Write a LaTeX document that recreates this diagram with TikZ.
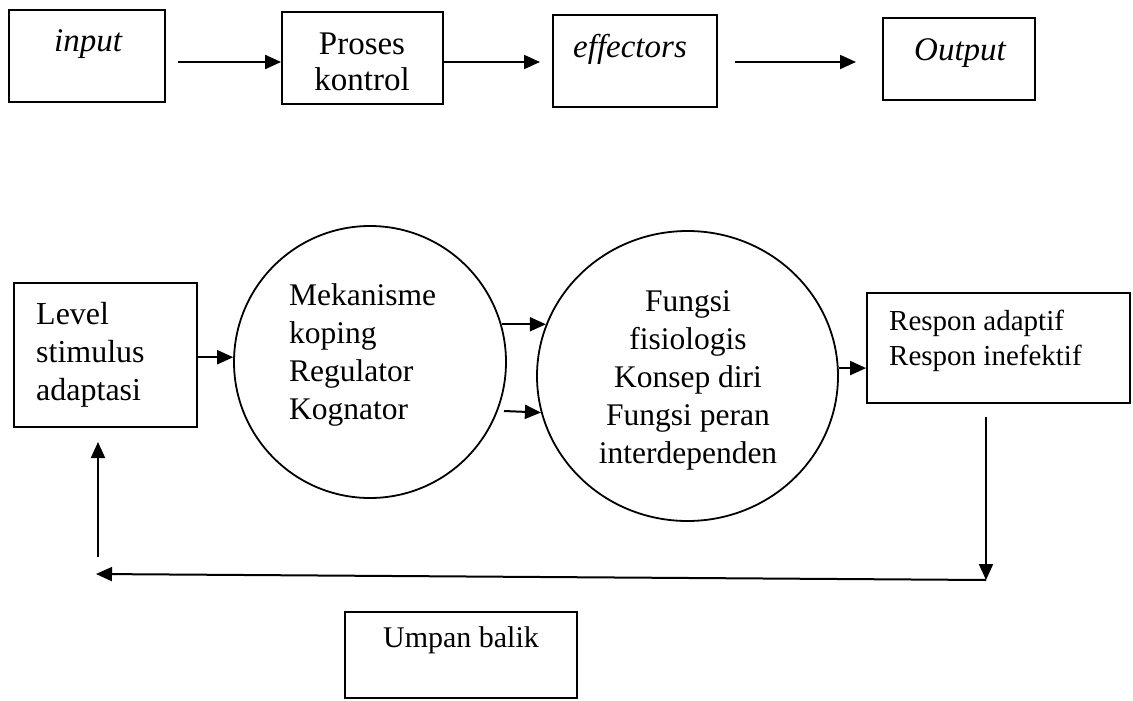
\documentclass[tikz,border=0pt]{standalone}
\usepackage{fontspec}
\setmainfont{Liberation Serif}
\usetikzlibrary{arrows.meta,calc,shapes.geometric}
\begin{document}
\begin{tikzpicture}[x=1pt,y=-1pt,
  box/.style={draw, line width=1.8pt, rectangle, inner sep=0pt},
  circ/.style={draw, line width=1.8pt, circle, inner sep=0pt},
  ell/.style={draw, line width=1.8pt, ellipse, inner sep=0pt},
  arr/.style={line width=2pt, -{Triangle[length=16pt,width=14pt]}},
  toptxt/.style={anchor=base, inner sep=0pt, font=\fontsize{33}{36}\selectfont},
  lvltxt/.style={anchor=base west, inner sep=0pt, font=\fontsize{32}{36}\selectfont},
  mtxt/.style={anchor=base west, inner sep=0pt, font=\fontsize{31.5}{36}\selectfont},
  ctxt/.style={anchor=base, inner sep=0pt, font=\fontsize{31.5}{36}\selectfont},
  rtxt/.style={anchor=base west, inner sep=0pt, font=\fontsize{29}{32}\selectfont},
]
\fill[white] (0,0) rectangle (1133,701);
\useasboundingbox (0,0) rectangle (1133,701);

% ---- top row ----
\node[box, minimum width=156pt, minimum height=92pt] (inbox) at (87,56) {};
\node[box, minimum width=161pt, minimum height=92pt] (proses) at (362.5,58) {};
\node[box, minimum width=164pt, minimum height=92pt] (effect) at (635,61) {};
\node[box, minimum width=152pt, minimum height=82pt] (outbox) at (959,59) {};

\node[toptxt] (tin) at (88,52) {\itshape input};
\node[toptxt] (tpr1) at (362,55) {Proses};
\node[toptxt] (tpr2) at (362,91) {kontrol};
\node[toptxt] (tef) at (630,58) {\itshape effectors};
\node[toptxt] (tout) at (960,60) {\itshape Output};

\coordinate (a1s) at (178,62);
\coordinate (a2e) at (540,62);
\coordinate (a3s) at (735,62);
\coordinate (a3e) at (856,62);
\draw[arr] (a1s) -- (a1s -| proses.west);
\draw[arr] (a2e -| proses.east) -- (a2e);
\draw[arr] (a3s) -- (a3e);

% ---- middle row ----
\node[box, minimum width=183pt, minimum height=144pt] (level) at (105.5,355) {};
\node[lvltxt] (l1) at (36,324) {Level};
\node[lvltxt] (l2) at (36,362) {stimulus};
\node[lvltxt] (l3) at (36,400) {adaptasi};

\node[circ, minimum size=272pt] (c1) at (370,362) {};
\node[mtxt] (m1) at (289,305) {Mekanisme};
\node[mtxt] (m2) at (289,343) {koping};
\node[mtxt] (m3) at (289,381) {Regulator};
\node[mtxt] (m4) at (289,419) {Kognator};

\node[ell, minimum width=301pt, minimum height=290pt] (c2) at (687.5,376) {};
\node[ctxt] (f1) at (688,311) {Fungsi};
\node[ctxt] (f2) at (688,349) {fisiologis};
\node[ctxt] (f3) at (688,387) {Konsep diri};
\node[ctxt] (f4) at (688,425) {Fungsi peran};
\node[ctxt] (f5) at (688,463) {interdependen};

\node[box, minimum width=263pt, minimum height=110pt] (respon) at (998.5,348) {};
\node[rtxt] (r1) at (889,330) {Respon adaptif};
\node[rtxt] (r2) at (889,365) {Respon inefektif};

\draw[arr] (c1.178 -| level.east) -- (c1.178);
\draw[arr] (c1.16) -- (c1.16 -| c2.160);
\coordinate (la) at (504,411);
\draw[arr] (la) -- (c2.194);
\draw[arr] (c2.3) -- (c2.3 -| respon.west);

% ---- feedback loop ----
\coordinate (rs) at (986,417);
\coordinate (corner) at (986,580);
\coordinate (hl) at (96,574);
\coordinate (lb) at (98,557);
\coordinate (lt) at (98,442);
\draw[arr] (rs) -- (corner);
\draw[arr] (corner) -- (hl);
\draw[arr] (lb) -- (lt);

\node[box, minimum width=232pt, minimum height=86pt] (umpan) at (461,655) {};
\node[toptxt, font=\fontsize{30}{34}\selectfont] (tu) at (461,647) {Umpan balik};
\end{tikzpicture}
\end{document}
